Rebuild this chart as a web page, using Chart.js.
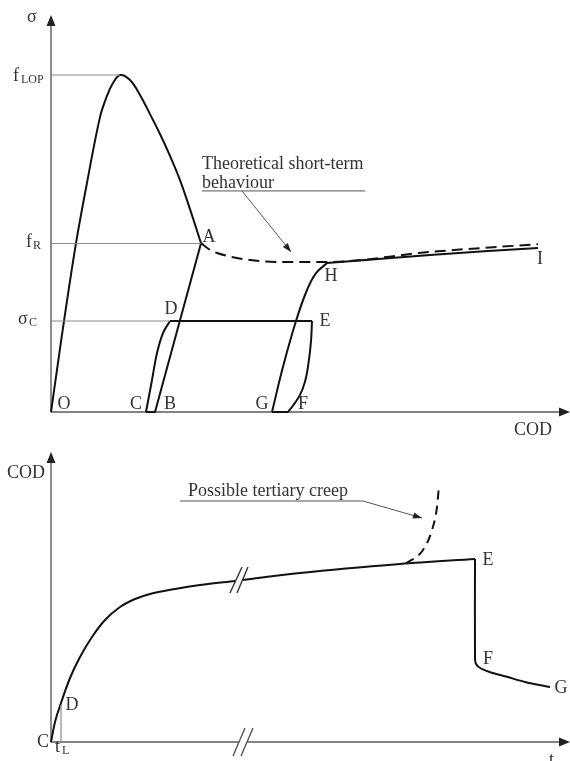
<!DOCTYPE html>
<html><head><meta charset="utf-8">
<script src="https://cdn.jsdelivr.net/npm/chart.js@4.4.0/dist/chart.umd.min.js"></script>
<style>
html,body{margin:0;padding:0;background:#fff;}
#wrap{position:relative;width:570px;height:761px;background:#fff;}
canvas{position:absolute;left:0;}
#c1{top:0}
#c2{top:450px}
</style></head><body>
<div id="wrap">
<canvas id="c1" width="570" height="450"></canvas>
<canvas id="c2" width="570" height="311"></canvas>
</div>
<script>
// ================= DATA =================
// Top chart: stress sigma (normalised by f_LOP) vs COD (mm)
const fLOP = 1.0, fR = 0.50, sigmaC = 0.27;
const peakCOD = 0.69, codA = 1.50, codD = 1.19;
const envelopeCOD   = [0, 0.06, 0.13, 0.25, 0.36, 0.49, 0.56, 0.62, 0.69, 0.79, 0.89, 0.99, 1.09, 1.19, 1.29, 1.39, 1.50];
const envelopeSigma = [0, 0.125, 0.270, 0.501, 0.680, 0.875, 0.938, 0.976, 1.000, 0.985, 0.941, 0.884, 0.825, 0.760, 0.688, 0.602, 0.501];
const unloadABC_COD   = [1.50, 1.04, 0.95];
const unloadABC_Sigma = [0.501, 0, 0];
const reloadCD_COD    = [0.95, 1.01, 1.06, 1.12, 1.19];
const reloadCD_Sigma  = [0, 0.095, 0.175, 0.234, 0.270];
const creepDE_COD     = [1.19, 2.61];
const creepDE_Sigma   = [0.270, 0.270];
const unloadEF_COD    = [2.61, 2.60, 2.575, 2.54, 2.48, 2.37];
const unloadEF_Sigma  = [0.270, 0.210, 0.145, 0.090, 0.045, 0];
const segFG_COD       = [2.37, 2.21];
const segFG_Sigma     = [0, 0];
const reloadGH_COD    = [2.21, 2.32, 2.45, 2.56, 2.65, 2.76];
const reloadGH_Sigma  = [0, 0.134, 0.270, 0.362, 0.412, 0.442];
const segHI_COD       = [2.76, 3.79, 4.87];
const segHI_Sigma     = [0.442, 0.466, 0.487];
const theoryCOD       = [1.50, 1.58, 1.66, 1.99, 2.39, 2.76, 3.79, 4.87];
const theorySigma     = [0.501, 0.483, 0.472, 0.451, 0.445, 0.445, 0.475, 0.498];

// Bottom chart: COD (mm) vs time t (arbitrary, broken axis)
const tL = 0.10, codAtTL = 0.37;
const creep1T   = [0, 0.04, 0.10, 0.19, 0.29, 0.41, 0.54, 0.69, 0.84, 0.99, 1.24, 1.49, 1.84];
const creep1COD = [0, 0.20, 0.39, 0.64, 0.85, 1.05, 1.22, 1.35, 1.43, 1.48, 1.53, 1.57, 1.61];
const creep2T   = [1.92, 2.49, 3.49, 4.24];
const creep2COD = [1.62, 1.69, 1.78, 1.83];
const dropFG_T   = [4.24, 4.24, 4.25, 4.30, 4.40, 4.55, 4.74, 4.99];
const dropFG_COD = [1.83, 0.86, 0.78, 0.735, 0.695, 0.655, 0.60, 0.55];
const tertiaryT   = [3.55, 3.72, 3.81, 3.86, 3.88];
const tertiaryCOD = [1.785, 1.92, 2.12, 2.35, 2.57];
const breakCurve1T = [1.79, 1.91], breakCurve1COD = [1.49, 1.75];
const breakCurve2T = [1.86, 1.97], breakCurve2COD = [1.49, 1.75];
const breakAxis1T  = [1.82, 1.94], breakAxis1COD  = [-0.14, 0.14];
const breakAxis2T  = [1.90, 2.02], breakAxis2COD  = [-0.14, 0.14];

// ================= HELPERS =================
const pts = (xs, ys) => xs.map((x, i) => ({x, y: ys[i]}));
const INK = '#111', GREY = '#8a8a8a', AX = '#5a5a5a', TXT = '#333';
function ds(data, o) {
  o = o || {};
  return {
    data, borderColor: o.color || INK, borderWidth: o.width || 2,
    tension: o.tension || 0, cubicInterpolationMode: o.mono ? 'monotone' : 'default',
    borderDash: o.dash || [], pointRadius: 0, fill: false, clip: false
  };
}
const SERIF = '"Liberation Serif","Times New Roman",serif';

function arrowHead(ctx, x1, y1, x2, y2, len, hw) {
  const a = Math.atan2(y2 - y1, x2 - x1);
  ctx.beginPath();
  ctx.moveTo(x2, y2);
  ctx.lineTo(x2 - len * Math.cos(a) + hw * Math.sin(a), y2 - len * Math.sin(a) - hw * Math.cos(a));
  ctx.lineTo(x2 - len * Math.cos(a) - hw * Math.sin(a), y2 - len * Math.sin(a) + hw * Math.cos(a));
  ctx.closePath();
  ctx.fill();
}
function line(ctx, x1, y1, x2, y2) { ctx.beginPath(); ctx.moveTo(x1, y1); ctx.lineTo(x2, y2); ctx.stroke(); }
function txt(ctx, s, x, y, size, align, base) {
  ctx.font = (size || 18) + 'px ' + SERIF;
  ctx.textAlign = align || 'left';
  ctx.textBaseline = base || 'alphabetic';
  ctx.fillText(s, x, y);
}
function subTxt(ctx, main, sub, x, y, subX, subY) {
  txt(ctx, main, x, y, 18);
  txt(ctx, sub, subX, subY, 12);
}

function makeChart(id, datasets, xr, yr, axes, labels) {
  return new Chart(document.getElementById(id), {
    type: 'line',
    data: { datasets },
    options: {
      responsive: false, animation: false, events: [],
      layout: { padding: 0 },
      plugins: { legend: { display: false }, tooltip: { enabled: false }, title: { display: false } },
      scales: {
        x: { type: 'linear', min: xr[0], max: xr[1], display: false },
        y: { type: 'linear', min: yr[0], max: yr[1], display: false }
      }
    },
    plugins: [{
      id: 'deco',
      beforeDatasetsDraw(chart) {
        const ctx = chart.ctx, X = chart.scales.x, Y = chart.scales.y;
        ctx.save();
        ctx.strokeStyle = AX; ctx.fillStyle = '#222'; ctx.lineWidth = 1.4;
        axes(ctx, v => X.getPixelForValue(v), v => Y.getPixelForValue(v));
        ctx.restore();
      },
      afterDatasetsDraw(chart) {
        const ctx = chart.ctx, X = chart.scales.x, Y = chart.scales.y;
        ctx.save();
        ctx.fillStyle = TXT; ctx.strokeStyle = '#555'; ctx.lineWidth = 1;
        labels(ctx, v => X.getPixelForValue(v), v => Y.getPixelForValue(v));
        ctx.restore();
      }
    }]
  });
}

// ================= TOP CHART =================
const topDatasets = [
  ds(pts([0, peakCOD], [fLOP, fLOP]), {color: GREY, width: 1.2}),
  ds(pts([0, codA], [fR, fR]), {color: GREY, width: 1.2}),
  ds(pts([0, codD], [sigmaC, sigmaC]), {color: GREY, width: 1.2}),
  ds(pts(envelopeCOD, envelopeSigma), {tension: 0.35}),
  ds(pts(unloadABC_COD, unloadABC_Sigma)),
  ds(pts(reloadCD_COD, reloadCD_Sigma), {tension: 0.4}),
  ds(pts(creepDE_COD, creepDE_Sigma)),
  ds(pts(unloadEF_COD, unloadEF_Sigma), {tension: 0.4}),
  ds(pts(segFG_COD, segFG_Sigma)),
  ds(pts(reloadGH_COD, reloadGH_Sigma), {tension: 0.4}),
  ds(pts(segHI_COD, segHI_Sigma), {tension: 0.4}),
  ds(pts(theoryCOD, theorySigma), {mono: true, dash: [11, 6]})
];
makeChart('c1', topDatasets, [-0.51, 5.19], [-38 / 337, 412 / 337],
  (ctx, px, py) => {
    const x0 = px(0), y0 = py(0);
    line(ctx, x0, y0, px(5.17), y0); arrowHead(ctx, x0, y0, px(5.19), y0, 11, 4.5);
    line(ctx, x0, y0, x0, py(1.16)); arrowHead(ctx, x0, y0, x0, py(1.178), 11, 4.5);
  },
  (ctx, px, py) => {
    txt(ctx, 'σ', 27, 22, 18);
    subTxt(ctx, 'f', 'LOP', 13, 81, 21, 83);
    subTxt(ctx, 'f', 'R', 26, 247, 33, 249);
    subTxt(ctx, 'σ', 'C', 18, 324, 29, 326);
    [['O', 64, 404], ['C', 136, 404], ['B', 170, 404], ['G', 262, 404], ['F', 303, 404],
     ['D', 171, 309], ['E', 325, 321], ['A', 209, 237], ['H', 331, 276], ['I', 540, 259]]
      .forEach(l => txt(ctx, l[0], l[1], l[2], 18, 'center', 'middle'));
    txt(ctx, 'COD', 533, 430, 18, 'center', 'middle');
    txt(ctx, 'Theoretical short-term', 202, 169, 18);
    txt(ctx, 'behaviour', 202, 188, 18);
    line(ctx, px(1.51), py(0.656), px(3.14), py(0.656));
    ctx.fillStyle = '#222';
    line(ctx, px(1.91), py(0.656), px(2.40), py(0.475));
    arrowHead(ctx, px(1.91), py(0.656), px(2.40), py(0.475), 9, 3.2);
  });

// ================= BOTTOM CHART =================
const botDatasets = [
  ds(pts([tL, tL], [0, codAtTL]), {color: GREY, width: 1.2}),
  ds(pts(creep1T, creep1COD), {mono: true}),
  ds(pts(creep2T, creep2COD), {mono: true}),
  ds(pts(dropFG_T, dropFG_COD), {tension: 0.3}),
  ds(pts(tertiaryT, tertiaryCOD), {mono: true, dash: [9, 6]}),
  ds(pts(breakCurve1T, breakCurve1COD), {color: '#333', width: 1.4}),
  ds(pts(breakCurve2T, breakCurve2COD), {color: '#333', width: 1.4}),
  ds(pts(breakAxis1T, breakAxis1COD), {color: '#555', width: 1.4}),
  ds(pts(breakAxis2T, breakAxis2COD), {color: '#555', width: 1.4})
];
makeChart('c2', botDatasets, [-0.51, 5.19], [-0.19, 2.92],
  (ctx, px, py) => {
    const x0 = px(0), y0 = py(0);
    line(ctx, x0, y0, px(1.88), y0);
    line(ctx, px(1.96), y0, px(5.17), y0); arrowHead(ctx, x0, y0, px(5.19), y0, 11, 4.5);
    line(ctx, x0, y0, x0, py(2.88)); arrowHead(ctx, x0, y0, x0, py(2.90), 11, 4.5);
  },
  (ctx, px, py) => {
    txt(ctx, 'COD', 26, 23, 18, 'center', 'middle');
    [['E', 488, 110], ['F', 488, 209], ['G', 561, 238], ['D', 72, 255], ['C', 43, 292]]
      .forEach(l => txt(ctx, l[0], l[1], l[2], 18, 'center', 'middle'));
    subTxt(ctx, 't', 'L', 55, 302, 62, 304);
    txt(ctx, 't', 549, 315, 18);
    txt(ctx, 'Possible tertiary creep', 188, 46, 18);
    line(ctx, px(1.29), py(2.41), px(3.12), py(2.41));
    ctx.fillStyle = '#222';
    line(ctx, px(3.12), py(2.41), px(3.71), py(2.24));
    arrowHead(ctx, px(3.12), py(2.41), px(3.71), py(2.24), 9, 3.2);
  });
</script>
</body></html>
